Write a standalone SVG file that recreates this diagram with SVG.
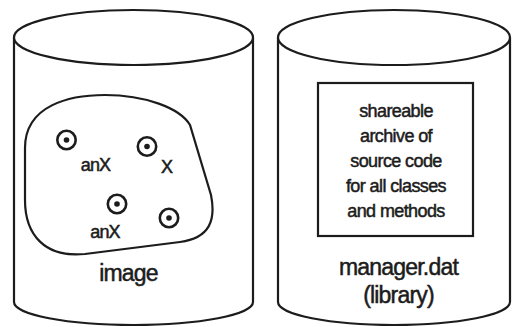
<svg xmlns="http://www.w3.org/2000/svg" width="512" height="327" viewBox="0 0 512 327">
<style>
.ln{fill:none;stroke:#1c1c1c;stroke-width:2.2}
.bg{fill:#fff;stroke:#1c1c1c;stroke-width:2.2}
.t{font-family:"Liberation Sans",Arial,sans-serif;fill:#1c1c1c;stroke:#1c1c1c;stroke-width:0.5;text-anchor:middle}
.big{font-size:23px;letter-spacing:-0.8px}
.mid{font-size:18px;letter-spacing:-0.6px}
.lbl{font-size:18px;letter-spacing:-0.9px}
.dot{fill:#1c1c1c}
</style>
<defs>
<g id="obj"><circle r="9.2" class="ln" style="stroke-width:2.6"/><circle r="2.8" class="dot"/></g>
</defs>
<rect width="512" height="327" fill="#fff"/>
<g id="image-cylinder">
<path class="bg" d="M14,37.5 L14,302 A119.5,23 0 0 0 253,302 L253,37.5"/>
<ellipse class="bg" cx="133.5" cy="37.5" rx="119.5" ry="27.5"/>
<text class="t big" x="128.5" y="281">image</text>
</g>
<g id="object-area">
<path class="ln" d="M25,148 C25,105 70,95 105,95 C145,95 180,108 190,125 L211,195 C216,220 210,238 180,242 L85,254 C45,258 25,235 25,200 Z"/>
</g>
<g id="obj1"><use href="#obj" x="66.5" y="140"/><text class="t lbl" x="95.5" y="171">anX</text></g>
<g id="obj2"><use href="#obj" x="147" y="146.5"/><text class="t lbl" x="166.5" y="173">X</text></g>
<g id="obj3"><use href="#obj" x="117" y="204"/><text class="t lbl" x="105" y="238">anX</text></g>
<g id="obj4"><use href="#obj" x="169" y="218"/></g>
<g id="library-cylinder">
<path class="bg" d="M278,37.5 L278,302 A116,23 0 0 0 510,302 L510,37.5"/>
<ellipse class="bg" cx="394" cy="37.5" rx="116" ry="27.5"/>
<text class="t big" x="398.5" y="275">manager.dat</text>
<text class="t big" x="398.5" y="303">(library)</text>
</g>
<g id="archive-box">
<rect class="bg" x="318" y="83" width="155" height="153"/>
<text class="t mid" x="396" y="117">shareable</text>
<text class="t mid" x="396" y="142">archive of</text>
<text class="t mid" x="396" y="167">source code</text>
<text class="t mid" x="396" y="192">for all classes</text>
<text class="t mid" x="396" y="217">and methods</text>
</g>
</svg>
